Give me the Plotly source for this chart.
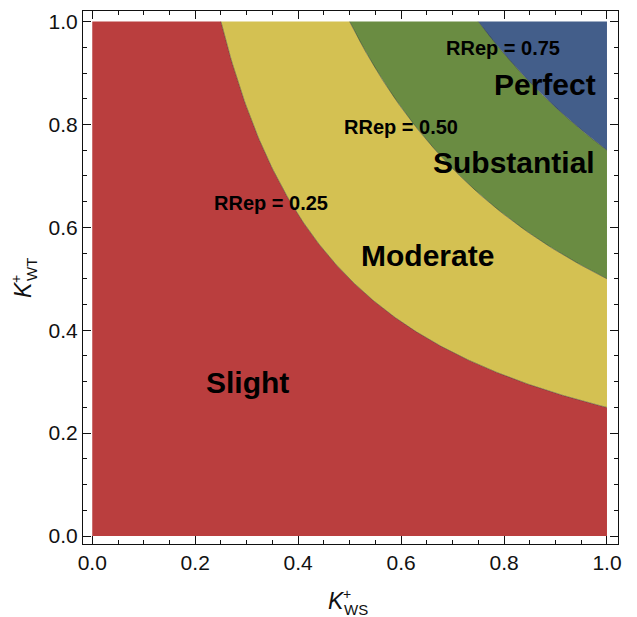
import numpy as np
import plotly.graph_objects as go

# Agreement bands on the (K_WS, K_WT) unit square, split by RRep = K_WS * K_WT
thresholds = [0.25, 0.50, 0.75]
band_names = ["Slight", "Moderate", "Substantial", "Perfect"]
band_colors = ["#BA3E3E", "#D4C152", "#6A8C42", "#435E8A"]

# label positions (data coordinates)
band_label_x = [0.302, 0.651, 0.820, 0.880]
band_label_y = [0.299, 0.546, 0.727, 0.878]
rrep_label_x = [0.347, 0.600, 0.798]
rrep_label_y = [0.647, 0.795, 0.948]

tick_vals = [0.0, 0.2, 0.4, 0.6, 0.8, 1.0]
tick_text = ["0.0", "0.2", "0.4", "0.6", "0.8", "1.0"]

FONT = "Liberation Sans, Arial, sans-serif"
W, H = 637, 617
ML, MR, MT, MB = 83, 19, 11, 73


def curve(a, n=200):
    xs = np.linspace(a, 1.0, n)
    return xs, a / xs


fig = go.Figure()

bounds = [0.0] + thresholds + [None]
for i, name in enumerate(band_names):
    lo, hi = bounds[i], bounds[i + 1]
    px_, py_ = [], []
    if lo == 0.0:
        px_ += [0.0, 0.0]
        py_ += [0.0, 1.0]
    else:
        px_ += [lo]
        py_ += [1.0]
    if hi is None:
        px_ += [1.0]
        py_ += [1.0]
    else:
        cx, cy = curve(hi)
        px_ += list(cx)
        py_ += list(cy)
    if lo == 0.0:
        px_ += [1.0]
        py_ += [0.0]
    else:
        cx, cy = curve(lo)
        px_ += list(cx[::-1])
        py_ += list(cy[::-1])
    fig.add_trace(go.Scatter(
        x=px_, y=py_, mode="lines", fill="toself",
        fillcolor=band_colors[i], line=dict(width=0),
        hoverinfo="skip", showlegend=False, name=name,
    ))

# boundary curves
for a in thresholds:
    cx, cy = curve(a)
    fig.add_trace(go.Scatter(
        x=cx, y=cy, mode="lines",
        line=dict(color="rgba(40,40,40,0.55)", width=0.8),
        hoverinfo="skip", showlegend=False,
    ))

annotations = []
for name, x, y in zip(band_names, band_label_x, band_label_y):
    annotations.append(dict(
        x=x, y=y, xref="x", yref="y", text=f"<b>{name}</b>", showarrow=False,
        font=dict(family=FONT, size=30, color="#000000"),
    ))
for a, x, y in zip(thresholds, rrep_label_x, rrep_label_y):
    annotations.append(dict(
        x=x, y=y, xref="x", yref="y", text=f"<b>RRep = {a:.2f}</b>", showarrow=False,
        font=dict(family=FONT, size=20, color="#000000"),
    ))


def paper(px, py):
    return (px - ML) / (W - ML - MR), (H - MB - py) / (H - MT - MB)


def axis_title(parts, angle):
    for text, (px, py), size in parts:
        xx, yy = paper(px, py)
        annotations.append(dict(
            x=xx, y=yy, xref="paper", yref="paper", text=text, showarrow=False,
            textangle=angle, xanchor="center", yanchor="middle",
            font=dict(family=FONT, size=size, color="#111111"),
        ))


axis_title([("<i>K</i>", (336, 601), 23), ("+", (347, 594), 14), ("WS", (356, 609), 15)], 0)
axis_title([("<i>K</i>", (23, 290), 23), ("+", (16, 279), 14), ("WT", (31, 270), 15)], -90)

axis_common = dict(
    tickvals=tick_vals, ticktext=tick_text, ticks="inside", ticklen=8,
    tickwidth=1, tickcolor="#111111", showline=True, linecolor="#111111",
    linewidth=1, mirror="allticks", showgrid=False, zeroline=False,
    tickfont=dict(family=FONT, size=21, color="#111111"),
    minor=dict(dtick=0.05, ticks="inside", ticklen=4, tickcolor="#111111", showgrid=False),
)

fig.update_layout(
    width=W, height=H,
    margin=dict(l=ML, r=MR, t=MT, b=MB),
    paper_bgcolor="white", plot_bgcolor="white",
    xaxis=dict(range=[-0.018, 1.0214], **axis_common),
    yaxis=dict(range=[-0.0155, 1.0206], **axis_common),
    annotations=annotations,
)

fig.write_html("out.html")
